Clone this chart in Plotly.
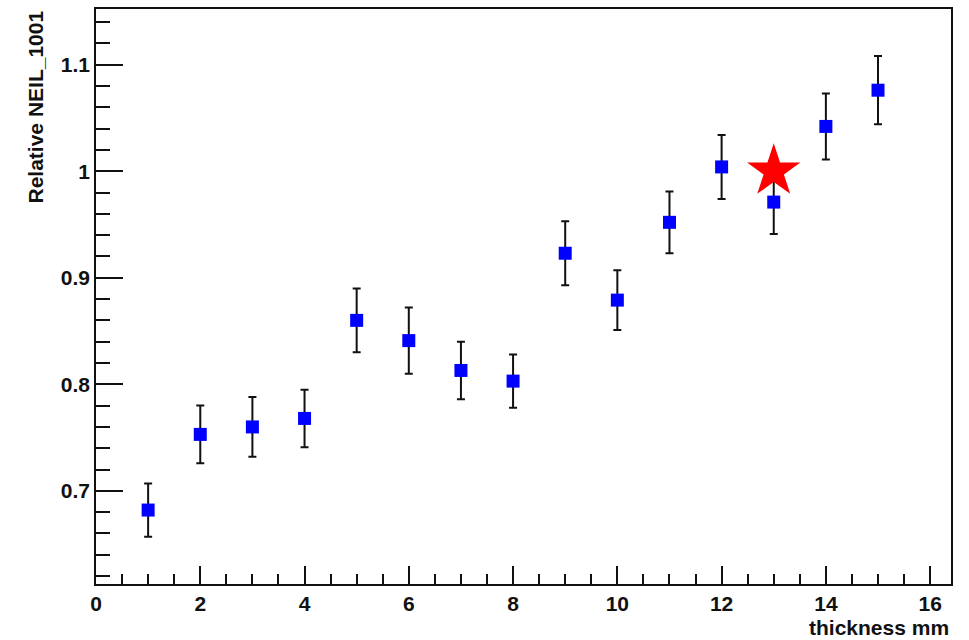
import plotly.graph_objects as go

# Measured relative NEIL_1001 vs. absorber thickness
thickness = [1, 2, 3, 4, 5, 6, 7, 8, 9, 10, 11, 12, 13, 14, 15]
neil = [0.682, 0.753, 0.760, 0.768, 0.860, 0.841, 0.813, 0.803, 0.923,
        0.879, 0.952, 1.004, 0.971, 1.042, 1.076]
neil_err = [0.025, 0.027, 0.028, 0.027, 0.030, 0.031, 0.027, 0.025, 0.030,
            0.028, 0.029, 0.030, 0.030, 0.031, 0.032]

# Reference point
ref_x = [13]
ref_y = [1.0]

FONT = "Liberation Sans"
INK = "#111111"

fig = go.Figure()
fig.add_trace(go.Scatter(
    x=thickness, y=neil, mode="markers",
    marker=dict(symbol="square", size=13, color="#0000ff", line=dict(width=0)),
    error_y=dict(type="data", array=neil_err, visible=True,
                 color=INK, thickness=2, width=4),
    showlegend=False,
))
fig.add_trace(go.Scatter(
    x=ref_x, y=ref_y, mode="markers",
    marker=dict(symbol="star", size=40, color="#ff0000", line=dict(width=0)),
    showlegend=False,
))

axis_common = dict(
    showline=True, linecolor=INK, linewidth=1.6, mirror=True,
    showgrid=False, zeroline=False, ticks="inside", tickcolor=INK,
    tickwidth=1.5,
    tickfont=dict(family=FONT, size=21, color=INK, weight="bold"),
)

fig.update_xaxes(
    range=[0, 16.4], tick0=0, dtick=2, ticklen=18,
    minor=dict(ticks="inside", dtick=0.5, ticklen=10, tickwidth=1.5,
               tickcolor=INK, showgrid=False),
    **axis_common,
)
fig.update_yaxes(
    range=[0.6126, 1.1522], tick0=0.7, dtick=0.1, ticklen=27,
    tickformat="~g",
    minor=dict(ticks="inside", dtick=0.02, ticklen=14, tickwidth=1.5,
               tickcolor=INK, showgrid=False),
    **axis_common,
)

fig.add_annotation(
    text="<b>thickness mm</b>", xref="paper", yref="paper", x=1.0, y=0,
    xanchor="right", yanchor="middle", yshift=-43, showarrow=False,
    font=dict(family=FONT, size=21, color=INK),
)
fig.add_annotation(
    text="<b>Relative NEIL_1001</b>", xref="paper", yref="paper", x=0, y=1.0,
    xanchor="center", yanchor="top", xshift=-61, textangle=-90,
    showarrow=False, font=dict(family=FONT, size=21, color=INK),
)

fig.update_layout(
    width=969, height=640,
    margin=dict(l=96, r=18, t=7, b=56),
    paper_bgcolor="white", plot_bgcolor="white",
)

fig.write_html("out.html")
